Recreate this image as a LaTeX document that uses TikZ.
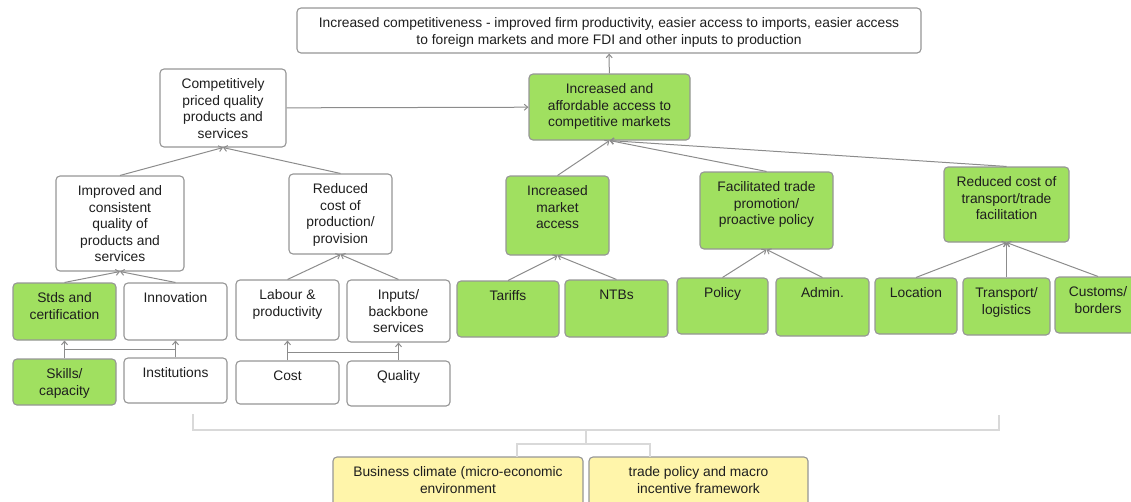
\documentclass[tikz,border=0pt]{standalone}
\usepackage{fontspec}
\setmainfont{Liberation Sans}
\usetikzlibrary{arrows.meta}
\definecolor{boxgray}{RGB}{150,150,150}
\definecolor{linegray}{RGB}{140,140,140}
\definecolor{bracegray}{RGB}{217,217,217}
\definecolor{leafgreen}{RGB}{160,224,96}
\definecolor{paleyellow}{RGB}{255,245,170}
\definecolor{inkgray}{RGB}{30,30,30}
\newcommand{\cell}[3]{\parbox[c][\dimexpr#2pt-16pt\relax][t]{\dimexpr#1pt-6pt\relax}{\centering\strut #3\par}}
\tikzset{
  plainbox/.style={draw=boxgray, line width=1.1pt, rounded corners=4pt, fill=white, inner xsep=3pt, inner ysep=8pt, text=inkgray},
  greenbox/.style={plainbox, fill=leafgreen},
  yellowbox/.style={plainbox, fill=paleyellow},
  link/.style={draw=linegray, line width=1pt, -{Straight Barb[length=3.5pt,width=6pt]}},
  joinline/.style={draw=linegray, line width=1pt},
  brace/.style={draw=bracegray, line width=2pt}
}

\begin{document}
\begin{tikzpicture}[x=1pt, y=-1pt, font=\fontsize{13.8}{16.5}\selectfont]
\useasboundingbox (0,0) rectangle (1131,501);

        % top
        \node (top) at (609,30.5) [plainbox] {\cell{624}{45}{Increased competitiveness - improved firm productivity, easier access to imports, easier access\\to foreign markets and more FDI and other inputs to production}};
        \node (mkt) at (609.5,107) [greenbox] {\cell{161}{66}{Increased and\\affordable access to\\competitive markets}};
        \node (comp) at (223,108) [plainbox] {\cell{126}{78}{Competitively\\priced quality\\products and\\services}};

        % left branch
        \node (qual) at (120,223.5) [plainbox] {\cell{128}{95}{Improved and\\consistent\\quality of\\products and\\services}};
        \node (prod) at (340.5,214) [plainbox] {\cell{103}{80}{Reduced\\cost of\\production/\\provision}};
        \node (stds) at (64.5,311.5) [greenbox] {\cell{103}{57}{Stds and\\certification}};
        \node (innov) at (175.5,311.5) [plainbox] {\cell{103}{57}{Innovation}};
        \node (skills) at (64.5,382) [greenbox] {\cell{103}{46}{Skills/\\capacity}};
        \node (inst) at (175.5,380.5) [plainbox] {\cell{103}{45}{Institutions}};
        \node (labour) at (287.5,310) [plainbox] {\cell{103}{60}{Labour \&\\productivity}};
        \node (inputs) at (398.5,311) [plainbox] {\cell{103}{62}{Inputs/\\backbone\\services}};
        \node (cost) at (287.5,382.5) [plainbox] {\cell{103}{43}{Cost}};
        \node (quality) at (398.5,383.5) [plainbox] {\cell{103}{45}{Quality}};

        % right branch
        \node (access) at (557.5,215.5) [greenbox] {\cell{103}{79}{Increased\\market\\access}};
        \node (promo) at (766.5,210.5) [greenbox] {\cell{133}{77}{Facilitated trade\\promotion/\\proactive policy}};
        \node (transp) at (1006.5,204.5) [greenbox] {\cell{125}{75}{Reduced cost of\\transport/trade\\facilitation}};
        \node (tariffs) at (508,309) [greenbox] {\cell{102}{56}{Tariffs}};
        \node (ntbs) at (616.5,308.5) [greenbox] {\cell{103}{57}{NTBs}};
        \node (policy) at (722.5,306) [greenbox] {\cell{91}{56}{Policy}};
        \node (admin) at (822.5,307) [greenbox] {\cell{93}{58}{Admin.}};
        \node (location) at (916,306) [greenbox] {\cell{82}{56}{Location}};
        \node (logist) at (1006.5,306.5) [greenbox] {\cell{87}{57}{Transport/\\logistics}};
        \node (customs) at (1098,305) [greenbox] {\cell{86}{56}{Customs/\\borders}};

        % framework
        \node (biz) at (458,484.5) [yellowbox] {\cell{250}{55}{Business climate (micro-economic\\environment}};
        \node (macro) at (698.5,484.5) [yellowbox] {\cell{219}{55}{trade policy and macro\\incentive framework}};

        \draw[link] (mkt) to (top);
        \draw[link] (comp) to (mkt);
        \draw[link] (qual.north) to (comp.south);
        \draw[link] (prod.north) to (comp.south);
        \draw[link] (stds.north) to (qual.south);
        \draw[link] (innov.north) to (qual.south);
        \draw[link] (labour.north) to (prod.south);
        \draw[link] (inputs.north) to (prod.south);
        \draw[link] (access.north) to (mkt.south);
        \draw[link] (promo.north) to (mkt.south);
        \draw[link] (transp.north) to (mkt.south);
        \draw[link] (tariffs.north) to (access.south);
        \draw[link] (ntbs.north) to (access.south);
        \draw[link] (policy.north) to (promo.south);
        \draw[link] (admin.north) to (promo.south);
        \draw[link] (location.north) to (transp.south);
        \draw[link] (logist.north) to (transp.south);
        \draw[link] (customs.north) to (transp.south);

        \coordinate (sjoin) at (0,349);
        \coordinate (cjoin) at (0,352);
        \draw[link] (skills.north) to (stds.south);
        \draw[link] (inst.north) to (innov.south);
        \draw[joinline] (skills.north |- sjoin) to (inst.north |- sjoin);
        \draw[link] (cost.north) to (labour.south);
        \draw[link] (quality.north) to (inputs.south);
        \draw[joinline] (cost.north |- cjoin) to (quality.north |- cjoin);

        \coordinate (bl) at (193,414);
        \coordinate (br) at (999,415);
        \coordinate (bmid) at (586,430);
        \coordinate (bsplit) at (586,444);
        \coordinate (bizin) at (517,457);
        \coordinate (macroin) at (650,457);
        \draw[brace] (bl) |- (bmid) -| (br);
        \draw[brace] (bmid) to (bsplit);
        \draw[brace] (bizin) |- (bsplit) -| (macroin);
        %\draw (586,420) node {};
\end{tikzpicture}
\end{document}
